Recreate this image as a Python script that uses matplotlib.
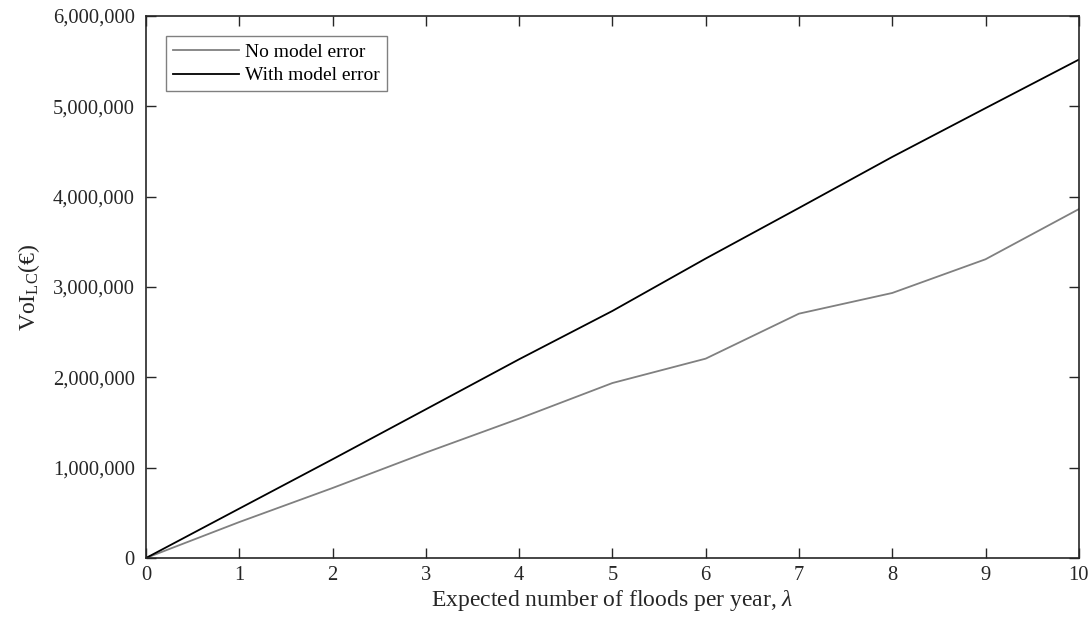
import matplotlib
matplotlib.use("Agg")
import matplotlib.pyplot as plt
from matplotlib.ticker import FuncFormatter

plt.rcParams['font.family'] = ['Liberation Serif', 'DejaVu Serif']
plt.rcParams['mathtext.fontset'] = 'custom'
plt.rcParams['mathtext.rm'] = 'Liberation Serif'
plt.rcParams['mathtext.it'] = 'Liberation Serif:italic'

lam = [0, 1, 2, 3, 4, 5, 6, 7, 8, 9, 10]
no_model_error = [0, 398000, 775000, 1167000, 1543000, 1937000, 2207000, 2705000, 2934000, 3307000, 3862000]
with_model_error = [0, 547000, 1093000, 1646000, 2200000, 2735000, 3315000, 3875000, 4440000, 4980000, 5517000]
xticks = list(range(0, 11))
yticks = [0, 1000000, 2000000, 3000000, 4000000, 5000000, 6000000]

fig = plt.figure(figsize=(10.91, 6.23), dpi=100)
ax = fig.add_axes([0.1338, 0.1043, 0.855, 0.870])

ax.plot(lam, no_model_error, color='#808080', lw=1.3, label='No model error')
ax.plot(lam, with_model_error, color='black', lw=1.3, label='With model error')

ax.set_xlim(0, 10)
ax.set_ylim(0, 6000000)
ax.set_xticks(xticks)
ax.set_yticks(yticks)
ax.yaxis.set_major_formatter(FuncFormatter(lambda v, p: f"{int(v):,}"))

ax.tick_params(direction='in', length=7, width=1, top=True, right=True,
               labelsize=14.8, colors='#262626', labelcolor='#262626')
ax.tick_params(axis='y', pad=8)
ax.tick_params(axis='x', pad=6)
for s in ax.spines.values():
    s.set_linewidth(1.2)
    s.set_color('#262626')

ax.set_xlabel(r'Expected number of floods per year, $\lambda$', fontsize=17, color='#262626', labelpad=2)
ax.set_ylabel(r'VoI$_{\mathrm{LC}}$(€)', fontsize=17, color='#262626', labelpad=8)

leg = ax.legend(loc='upper left', fontsize=14, fancybox=False, framealpha=1,
                edgecolor='#808080', borderaxespad=1.05, handlelength=3.35,
                borderpad=0.36, labelspacing=0.3, handletextpad=0.35)
leg.get_frame().set_linewidth(1.0)

fig.savefig('out.png', dpi=100)
